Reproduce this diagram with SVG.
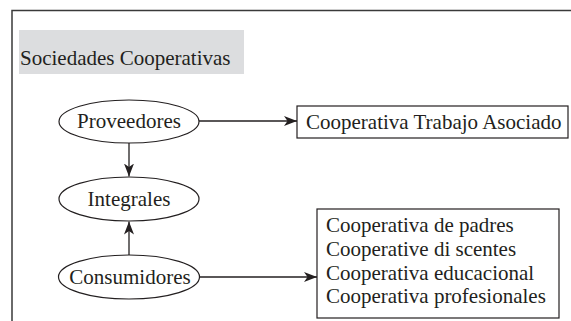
<svg xmlns="http://www.w3.org/2000/svg" width="571" height="321" viewBox="0 0 571 321">
<style>
text{font-family:"Liberation Serif","Times New Roman",serif;font-size:21px;fill:#231f20}
.node ellipse,.node rect.box{fill:#fff;stroke:#231f20;stroke-width:1.2}
.conn line{stroke:#231f20;stroke-width:1.3;fill:none;marker-end:url(#ah)}
</style>
<defs>
<marker id="ah" viewBox="0 0 13 10" markerWidth="13" markerHeight="10" refX="13" refY="5" orient="auto" markerUnits="userSpaceOnUse">
<path d="M0,0 L13,5 L0,10 L3.5,5 z" fill="#231f20"/>
</marker>
</defs>
<rect width="571" height="321" fill="#fff"/>
<path d="M12,321 V10.5 H571" fill="none" stroke="#3a3a3a" stroke-width="1.5"/>
<g id="title">
<rect x="19" y="30" width="225" height="44" fill="#dcdddf"/>
<text x="20" y="65">Sociedades Cooperativas</text>
</g>
<g class="conn" id="connectors">
<line x1="199" y1="121" x2="297" y2="121"/>
<line x1="129" y1="143" x2="129" y2="176.5"/>
<line x1="129" y1="255" x2="129" y2="221.5"/>
<line x1="199" y1="277" x2="317" y2="277"/>
</g>
<g class="node" id="proveedores">
<ellipse cx="129" cy="121.5" rx="70" ry="21.5"/>
<text x="129" y="128" text-anchor="middle">Proveedores</text>
</g>
<g class="node" id="integrales">
<ellipse cx="129" cy="199" rx="70" ry="22"/>
<text x="129" y="205.5" text-anchor="middle">Integrales</text>
</g>
<g class="node" id="consumidores">
<ellipse cx="129" cy="277" rx="70.5" ry="22"/>
<text x="130" y="283.5" text-anchor="middle">Consumidores</text>
</g>
<g class="node" id="trabajo">
<rect class="box" x="297" y="106" width="271" height="32"/>
<text x="306" y="128.5">Cooperativa Trabajo Asociado</text>
</g>
<g class="node" id="lista">
<rect class="box" x="317" y="209" width="242" height="109"/>
<text x="326" y="232">Cooperativa de padres</text>
<text x="326" y="256">Cooperative di scentes</text>
<text x="326" y="279.5">Cooperativa educacional</text>
<text x="326" y="303">Cooperativa profesionales</text>
</g>
</svg>
